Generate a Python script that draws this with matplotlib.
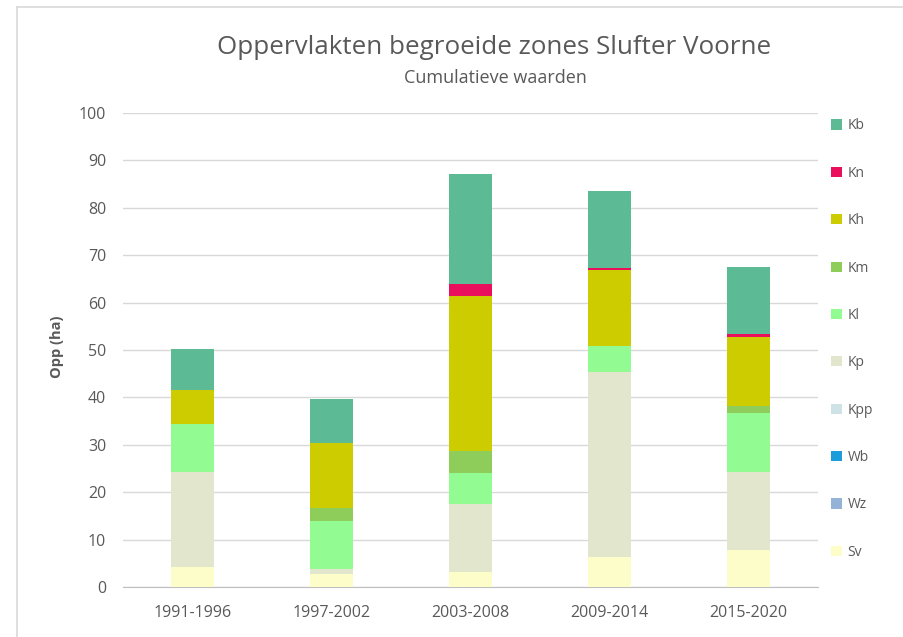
import matplotlib
matplotlib.use("Agg")
import matplotlib.pyplot as plt
from matplotlib.lines import Line2D
from matplotlib.patches import Patch
import numpy as np

plt.rcParams['font.family'] = ['Open Sans', 'DejaVu Sans']

periods = ["1991-1996", "1997-2002", "2003-2008", "2009-2014", "2015-2020"]

# area per zone (ha), stacked from bottom (Sv) to top (Kb)
sv = [4.3, 2.8, 3.1, 6.4, 7.9]
wz = [0, 0, 0, 0, 0]
wb = [0, 0, 0, 0, 0]
kpp = [0, 0, 0, 0, 0]
kp = [20.0, 1.0, 14.5, 38.9, 16.4]
kl = [10.1, 10.1, 6.5, 5.6, 12.4]
km = [0, 2.8, 4.7, 0, 1.4]
kh = [7.1, 13.6, 32.6, 15.9, 14.6]
kn = [0, 0, 2.6, 0.5, 0.6]
kb = [8.8, 9.3, 23.2, 16.2, 14.2]

zones = ["Sv", "Wz", "Wb", "Kpp", "Kp", "Kl", "Km", "Kh", "Kn", "Kb"]
series = [sv, wz, wb, kpp, kp, kl, km, kh, kn, kb]
colors = ["#fdfdc9", "#95b3d7", "#1b9ddb", "#cfe2e6", "#e1e6cd",
          "#92fb92", "#8fcd5a", "#cccc00", "#ea0f5c", "#5cba95"]

grey = "#595959"

fig = plt.figure(figsize=(9.04, 6.37), dpi=100)
ax = fig.add_axes([0.136, 0.0785, 0.769, 0.744])

x = np.arange(len(periods))
bottom = np.zeros(len(periods))
for name, vals, col in zip(zones, series, colors):
    vals = np.array(vals, dtype=float)
    ax.bar(x, vals, width=0.31, bottom=bottom, color=col, linewidth=0, zorder=3)
    bottom += vals

ax.set_xlim(-0.5, 4.5)
ax.set_ylim(0, 100)
ax.set_yticks(range(0, 101, 10))
ax.set_xticks(x)
ax.set_xticklabels(periods)
ax.grid(axis="y", color="#d9d9d9", linewidth=1, zorder=0)
for s in ["top", "right", "left"]:
    ax.spines[s].set_visible(False)
ax.spines["bottom"].set_color("#bfbfbf")
ax.tick_params(axis="both", length=0, labelcolor=grey, labelsize=11.5)
ax.tick_params(axis="x", pad=13)
ax.tick_params(axis="y", pad=12)

fig.text(0.063, 0.455, "Opp (ha)", rotation=90, ha="center", va="center",
         color=grey, fontsize=10.5, fontweight="bold")

fig.text(0.547, 0.926, "Oppervlakten begroeide zones Slufter Voorne",
         ha="center", va="center", color=grey, fontsize=18.7)
fig.text(0.548, 0.878, "Cumulatieve waarden",
         ha="center", va="center", color=grey, fontsize=13)

handles = [Patch(facecolor=c, edgecolor="none", label=z)
           for z, c in zip(zones[::-1], colors[::-1])]
fig.legend(handles=handles, loc="upper left", bbox_to_anchor=(0.912, 0.825),
           frameon=False, fontsize=10, labelcolor=grey, handlelength=0.75,
           handleheight=0.75, handletextpad=0.4, labelspacing=2.33,
           borderpad=0)

# light frame of the chart area (top and left edge visible)
fig.add_artist(Line2D([17 / 904, 1], [1 - 7 / 637] * 2, color="#d9d9d9", lw=1.2,
                      transform=fig.transFigure))
fig.add_artist(Line2D([17 / 904] * 2, [0, 1 - 7 / 637], color="#d9d9d9", lw=1.2,
                      transform=fig.transFigure))

fig.savefig("out.png", dpi=100)
